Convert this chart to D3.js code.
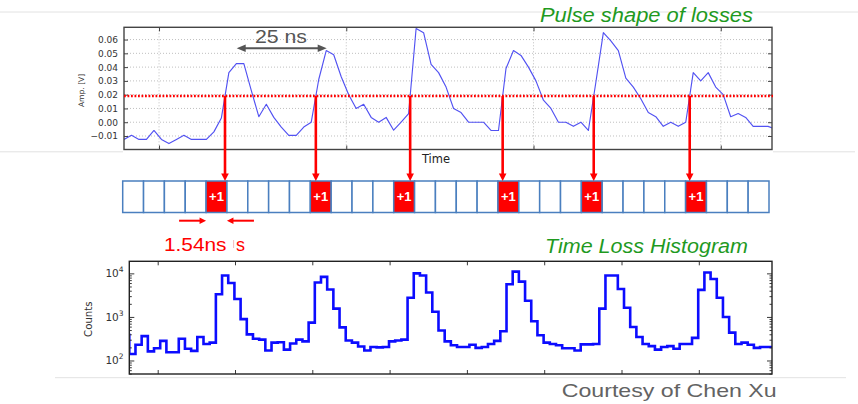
<!DOCTYPE html>
<html>
<head>
<meta charset="utf-8">
<script src="https://cdn.jsdelivr.net/npm/d3@7"></script>
<style>
  html, body { margin: 0; padding: 0; background: #fff; }
  svg { display: block; }
</style>
</head>
<body>
<svg id="fig" width="858" height="404"></svg>
<script>
// ---------- pulse trace (one sample every 2 ns) ----------
const sampleStart = -9.35;   // ns, time of the first sample
const sampleStep = 2;        // ns
const pulseAmp = [
  -0.0125, -0.0095, -0.0125, -0.0125, -0.006, -0.0125, -0.0155, -0.0125, -0.0095, -0.0125,
  -0.0125, -0.0125, -0.007, 0.003, 0.036, 0.0425, 0.0425, 0.023, 0.004, 0.013,
  0.0035, -0.0035, -0.0095, -0.0095, -0.0035, 0.0, 0.031, 0.052, 0.049, 0.033,
  0.020, 0.010, 0.013, 0.0035, 0.0, 0.0035, -0.0058, 0.0, 0.0063, 0.068,
  0.065, 0.042, 0.036, 0.0255, 0.010, 0.007, 0.0, 0.0, 0.0, -0.006,
  -0.006, 0.039, 0.052, 0.0485, 0.040, 0.030, 0.016, 0.010, 0.0, 0.0,
  -0.003, 0.0, -0.006, 0.029, 0.065, 0.059, 0.052, 0.032, 0.0255, 0.017,
  0.007, 0.004, -0.003, 0.0, -0.003, 0.0, 0.036, 0.030, 0.036, 0.0255,
  0.020, 0.004, 0.0063, 0.0035, -0.003, -0.003, -0.003, -0.005
];
const threshold = 0.019;                 // V, trigger level
const ampTicks = [-0.01, 0, 0.01, 0.02, 0.03, 0.04, 0.05, 0.06];
const timeGrid = [0, 50, 100, 150];      // ns
const periodLabel = "25 ns";

// ---------- binning strip ----------
const cellCount = 31;
const cellLabel = "+1";
const binWidthLabel = "1.54ns";

// ---------- time-loss histogram ----------
const histStart = 11.05;     // ns, left edge of the first bin
const histBinWidth = 1.6;    // ns
const histCounts = [
  390, 141, 229, 363, 162, 191, 282, 155, 155, 316,
  186, 166, 347, 240, 257, 3311, 8913, 6026, 2570, 891,
  398, 316, 302, 170, 257, 263, 178, 245, 302, 275,
  741, 6166, 8318, 4266, 1549, 575, 288, 257, 210, 170,
  204, 200, 204, 275, 288, 302, 2754, 10000, 8913, 3631,
  1318, 490, 275, 224, 204, 204, 229, 195, 204, 240,
  282, 468, 5623, 10965, 6457, 2344, 794, 380, 257, 240,
  224, 191, 191, 170, 234, 234, 240, 1549, 8913, 8913,
  4365, 1622, 589, 347, 240, 214, 178, 204, 214, 186,
  240, 240, 331, 4169, 10471, 7413, 2754, 1000, 437, 240,
  257, 229, 195, 204, 204
];
const histTimeTicks = [20, 40, 60, 80, 100, 120, 140, 160];
const countTicks = [1e2, 1e3, 1e4];

// ---------- layout ----------
const topBox = { left: 124, right: 772, top: 27.3, bottom: 149.5 };
const stripBox = { left: 122.7, right: 769, top: 181, bottom: 212.5 };
const histBox = { left: 129.3, right: 772, top: 261.3, bottom: 374 };

const slideFont = "'Liberation Sans', Arial, sans-serif";
const plotFont = "'DejaVu Sans', sans-serif";
const red = "#ff0000";
const green = "#1f9a1f";

const svg = d3.select("#fig");
svg.append("rect").attr("width", 858).attr("height", 404).attr("fill", "#fff");

// light slide rules
const rules = [
  { y: 12, x0: 0, x1: 858 },
  { y: 151.8, x0: 0, x1: 123 },
  { y: 151.8, x0: 773, x1: 855 },
  { y: 377.7, x0: 55, x1: 846 }
];
svg.selectAll("line.rule").data(rules).join("line")
  .attr("x1", d => d.x0).attr("x2", d => d.x1)
  .attr("y1", d => d.y).attr("y2", d => d.y)
  .attr("stroke", "#e2e2e2").attr("stroke-width", 1);

// ================= pulse panel =================
const tMin = sampleStart;
const tMax = sampleStart + (topBox.right - topBox.left) / 3.745;
const xTop = d3.scaleLinear().domain([tMin, tMax]).range([topBox.left, topBox.right]);
const yTop = d3.scaleLinear().domain([-0.0198, 0.0689]).range([topBox.bottom, topBox.top]);

const pulse = pulseAmp.map((v, i) => ({ t: sampleStart + i * sampleStep, v }));

const defs = svg.append("defs");
defs.append("clipPath").attr("id", "clipTop").append("rect")
  .attr("x", topBox.left).attr("y", topBox.top)
  .attr("width", topBox.right - topBox.left).attr("height", topBox.bottom - topBox.top);
defs.append("clipPath").attr("id", "clipHist").append("rect")
  .attr("x", histBox.left).attr("y", histBox.top)
  .attr("width", histBox.right - histBox.left).attr("height", histBox.bottom - histBox.top);

const gTop = svg.append("g");

// dotted grid
gTop.selectAll("line.hgrid").data(ampTicks).join("line")
  .attr("x1", topBox.left).attr("x2", topBox.right)
  .attr("y1", d => yTop(d)).attr("y2", d => yTop(d))
  .attr("stroke", "#b8b8b8").attr("stroke-width", 0.9).attr("stroke-dasharray", "1,2");
gTop.selectAll("line.vgrid").data(timeGrid).join("line")
  .attr("x1", d => xTop(d)).attr("x2", d => xTop(d))
  .attr("y1", topBox.top).attr("y2", topBox.bottom)
  .attr("stroke", "#b8b8b8").attr("stroke-width", 0.9).attr("stroke-dasharray", "1,2");

// trace
gTop.append("path").datum(pulse)
  .attr("clip-path", "url(#clipTop)")
  .attr("fill", "none").attr("stroke", "#5252f2").attr("stroke-width", 1.15)
  .attr("stroke-linejoin", "round")
  .attr("d", d3.line().x(d => xTop(d.t)).y(d => yTop(d.v)));

// axes with inward ticks on all four sides
const axL = d3.axisLeft(yTop).tickValues(ampTicks).tickSizeInner(-4).tickSizeOuter(0)
  .tickPadding(6).tickFormat(d => d3.format(".2f")(d).replace("-", "\u2212"));
const gL = gTop.append("g").attr("transform", `translate(${topBox.left},0)`).call(axL);
gL.select(".domain").remove();
gL.selectAll("text").attr("font-family", plotFont).attr("font-size", 9).attr("fill", "#333");
gL.selectAll("line").attr("stroke", "#444");
const axR = d3.axisRight(yTop).tickValues(ampTicks).tickSizeInner(-4).tickSizeOuter(0).tickFormat("");
const gR = gTop.append("g").attr("transform", `translate(${topBox.right},0)`).call(axR);
gR.select(".domain").remove();
gR.selectAll("line").attr("stroke", "#444");
const axB = d3.axisBottom(xTop).tickValues(timeGrid).tickSizeInner(-4).tickSizeOuter(0).tickFormat("");
const gB = gTop.append("g").attr("transform", `translate(0,${topBox.bottom})`).call(axB);
gB.select(".domain").remove();
gB.selectAll("line").attr("stroke", "#444");
const axT = d3.axisTop(xTop).tickValues(timeGrid).tickSizeInner(-4).tickSizeOuter(0).tickFormat("");
const gT = gTop.append("g").attr("transform", `translate(0,${topBox.top})`).call(axT);
gT.select(".domain").remove();
gT.selectAll("line").attr("stroke", "#444");

gTop.append("rect")
  .attr("x", topBox.left).attr("y", topBox.top)
  .attr("width", topBox.right - topBox.left).attr("height", topBox.bottom - topBox.top)
  .attr("fill", "none").attr("stroke", "#444").attr("stroke-width", 1.4);

gTop.append("text")
  .attr("transform", `translate(81,${(topBox.top + topBox.bottom) / 2 + 2}) rotate(-90)`)
  .attr("text-anchor", "middle").attr("dy", "0.35em")
  .attr("font-family", plotFont).attr("font-size", 7.6).attr("fill", "#333")
  .text("Amp. [V]");
gTop.append("text")
  .attr("x", 436).attr("y", 162.5).attr("text-anchor", "middle")
  .attr("font-family", plotFont).attr("font-size", 11.5).attr("fill", "#222")
  .text("Time");

// threshold level
gTop.append("line")
  .attr("x1", topBox.left).attr("x2", topBox.right + 1)
  .attr("y1", yTop(threshold)).attr("y2", yTop(threshold))
  .attr("stroke", red).attr("stroke-width", 2.4).attr("stroke-dasharray", "1.8,1.7");

// period annotation
const periodY = 48.3;
const pA = 236.7, pB = 326.7;
gTop.append("line").attr("x1", pA + 6).attr("x2", pB - 6)
  .attr("y1", periodY).attr("y2", periodY)
  .attr("stroke", "#555").attr("stroke-width", 2);
gTop.append("path")
  .attr("d", `M${pA},${periodY} L${pA + 9},${periodY - 3.8} L${pA + 9},${periodY + 3.8} Z
              M${pB},${periodY} L${pB - 9},${periodY - 3.8} L${pB - 9},${periodY + 3.8} Z`)
  .attr("fill", "#555");
gTop.append("text")
  .attr("x", 255).attr("y", 43.3)
  .attr("font-family", slideFont).attr("font-size", 17.5).attr("fill", "#555")
  .attr("textLength", 52).attr("lengthAdjust", "spacingAndGlyphs")
  .text(periodLabel);

// panel title
svg.append("text")
  .attr("x", 540).attr("y", 21.5)
  .attr("font-family", slideFont).attr("font-style", "italic")
  .attr("font-size", 20.5).attr("fill", green)
  .attr("textLength", 213).attr("lengthAdjust", "spacingAndGlyphs")
  .text("Pulse shape of losses");

// ================= binning strip =================
// upward threshold crossings of the trace
const crossings = [];
for (let i = 1; i < pulse.length; i++) {
  const a = pulse[i - 1], b = pulse[i];
  if (a.v < threshold && b.v >= threshold) {
    crossings.push(a.t + (threshold - a.v) / (b.v - a.v) * (b.t - a.t));
  }
}
const xCell = d3.scaleLinear().domain([0, cellCount]).range([stripBox.left, stripBox.right]);
const hitCells = new Set(crossings.map(t => Math.floor(xCell.invert(xTop(t)))));
const cells = d3.range(cellCount);
const cellW = xCell(1) - xCell(0);

const gStrip = svg.append("g");
gStrip.selectAll("rect.cell").data(cells).join("rect")
  .attr("x", d => xCell(d)).attr("y", stripBox.top)
  .attr("width", cellW).attr("height", stripBox.bottom - stripBox.top)
  .attr("fill", d => hitCells.has(d) ? "#fe0000" : "#fff")
  .attr("stroke", "#4a7fbf").attr("stroke-width", 1.5);
gStrip.selectAll("text.hit").data(cells.filter(d => hitCells.has(d))).join("text")
  .attr("x", d => xCell(d + 0.5)).attr("y", 201)
  .attr("text-anchor", "middle")
  .attr("font-family", slideFont).attr("font-weight", "bold").attr("font-size", 13)
  .attr("fill", "#fff")
  .text(cellLabel);

// arrows from each crossing down to its cell
const headLen = 7.5, headHalf = 3.8;
crossings.forEach(t => {
  const x = xTop(t);
  gStrip.append("line")
    .attr("x1", x).attr("x2", x)
    .attr("y1", yTop(threshold)).attr("y2", stripBox.top - headLen + 1)
    .attr("stroke", red).attr("stroke-width", 2.6);
  gStrip.append("path")
    .attr("d", `M${x},${stripBox.top} L${x - headHalf},${stripBox.top - headLen} L${x + headHalf},${stripBox.top - headLen} Z`)
    .attr("fill", red);
});

// bin-width marker
const mY = 220.7;
const mLeft = xCell(4), mRight = xCell(5);
[[mLeft - 27, mLeft], [mRight + 27, mRight]].forEach(([x0, x1]) => {
  const dir = Math.sign(x1 - x0);
  gStrip.append("line").attr("x1", x0).attr("x2", x1 - dir * 5)
    .attr("y1", mY).attr("y2", mY).attr("stroke", red).attr("stroke-width", 2);
  gStrip.append("path")
    .attr("d", `M${x1},${mY} L${x1 - dir * 6.5},${mY - 3.3} L${x1 - dir * 6.5},${mY + 3.3} Z`)
    .attr("fill", red);
});
gStrip.append("text")
  .attr("x", 164).attr("y", 250.7)
  .attr("font-family", slideFont).attr("font-size", 19).attr("fill", red)
  .attr("textLength", 62.5).attr("lengthAdjust", "spacingAndGlyphs")
  .text(binWidthLabel);
gStrip.append("line").attr("x1", 233.6).attr("x2", 233.6).attr("y1", 240).attr("y2", 248)
  .attr("stroke", "#f2b4b4").attr("stroke-width", 0.9);
gStrip.append("text")
  .attr("x", 236).attr("y", 250.7)
  .attr("font-family", slideFont).attr("font-size", 18).attr("fill", red)
  .text("s");

svg.append("text")
  .attr("x", 545).attr("y", 252.7)
  .attr("font-family", slideFont).attr("font-style", "italic")
  .attr("font-size", 20).attr("fill", green)
  .attr("textLength", 203).attr("lengthAdjust", "spacingAndGlyphs")
  .text("Time Loss Histogram");

// ================= histogram panel =================
const xHist = d3.scaleLinear()
  .domain([20 - (157.7 - histBox.left) / 3.865, 20 + (histBox.right - 157.7) / 3.865])
  .range([histBox.left, histBox.right]);
const yHist = d3.scaleLog().domain([Math.pow(10, 1.69), Math.pow(10, 4.277)])
  .range([histBox.bottom, histBox.top]);

const steps = histCounts.map((c, i) => [histStart + i * histBinWidth, c]);
steps.push([histStart + histCounts.length * histBinWidth, histCounts[histCounts.length - 1]]);

const gH = svg.append("g");
gH.append("path").datum(steps)
  .attr("clip-path", "url(#clipHist)")
  .attr("fill", "none").attr("stroke", "#0c0cff").attr("stroke-width", 2.6)
  .attr("stroke-linejoin", "miter")
  .attr("d", d3.line().curve(d3.curveStepAfter).x(d => xHist(d[0])).y(d => yHist(d[1])));

// ticks (inward, all sides)
const minorCounts = [];
[10, 100, 1000, 10000].forEach(dec => {
  for (let k = 2; k <= 9; k++) {
    const v = k * dec;
    if (v >= yHist.domain()[0] && v <= yHist.domain()[1]) minorCounts.push(v);
  }
});
function hAxis(axisFn, scale, values, size, pos, isX) {
  const ax = axisFn(scale).tickValues(values).tickSizeInner(-size).tickSizeOuter(0).tickFormat("");
  const g = gH.append("g")
    .attr("transform", isX ? `translate(0,${pos})` : `translate(${pos},0)`)
    .call(ax);
  g.select(".domain").remove();
  g.selectAll("line").attr("stroke", "#222").attr("stroke-width", 0.9);
}
hAxis(d3.axisBottom, xHist, histTimeTicks, 4, histBox.bottom, true);
hAxis(d3.axisTop, xHist, histTimeTicks, 4, histBox.top, true);
hAxis(d3.axisLeft, yHist, countTicks, 5, histBox.left, false);
hAxis(d3.axisRight, yHist, countTicks, 5, histBox.right, false);
hAxis(d3.axisLeft, yHist, minorCounts, 2.5, histBox.left, false);
hAxis(d3.axisRight, yHist, minorCounts, 2.5, histBox.right, false);

gH.append("rect")
  .attr("x", histBox.left).attr("y", histBox.top)
  .attr("width", histBox.right - histBox.left).attr("height", histBox.bottom - histBox.top)
  .attr("fill", "none").attr("stroke", "#222").attr("stroke-width", 1.4);

// decade labels 10^n
const lbl = gH.selectAll("text.dec").data(countTicks).join("text")
  .attr("x", 123.6).attr("y", d => yHist(d) + 4)
  .attr("text-anchor", "end")
  .attr("font-family", plotFont).attr("fill", "#333");
lbl.append("tspan").attr("font-size", 10.5).text("10");
lbl.append("tspan").attr("font-size", 7.5).attr("dy", -5)
  .text(d => String(Math.round(Math.log10(d))));

gH.append("text")
  .attr("transform", `translate(88.5,${(histBox.top + histBox.bottom) / 2 + 1.5}) rotate(-90)`)
  .attr("text-anchor", "middle").attr("dy", "0.35em")
  .attr("font-family", plotFont).attr("font-size", 10.2).attr("fill", "#333")
  .text("Counts");

// credit line
svg.append("text")
  .attr("x", 561.7).attr("y", 396.6)
  .attr("font-family", slideFont).attr("font-size", 19).attr("fill", "#636363")
  .attr("textLength", 215).attr("lengthAdjust", "spacingAndGlyphs")
  .text("Courtesy of Chen Xu");
</script>
</body>
</html>
